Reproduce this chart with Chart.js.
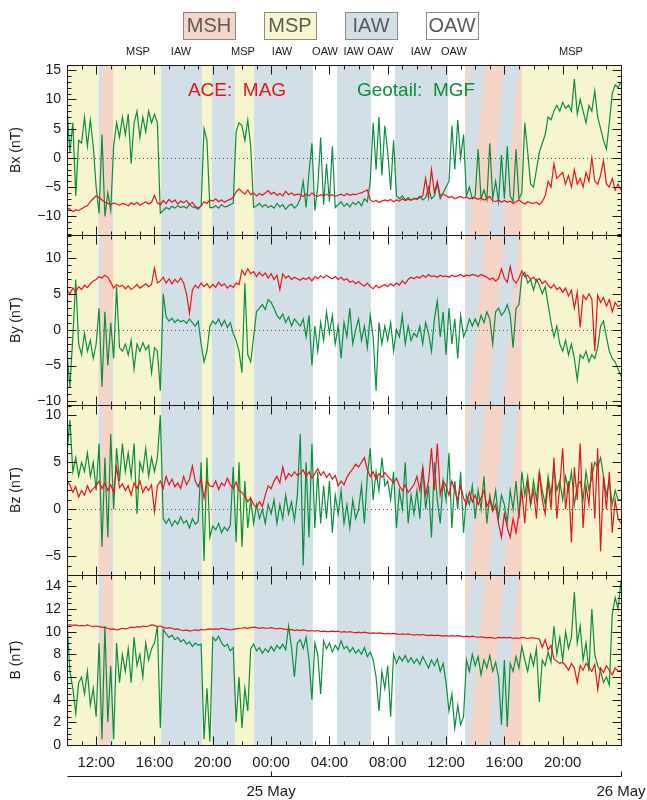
<!DOCTYPE html>
<html>
<head>
<meta charset="utf-8">
<script src="https://cdn.jsdelivr.net/npm/chart.js@4.4.1/dist/chart.umd.min.js"></script>
<style>
  html, body { margin: 0; padding: 0; background: #fff; }
  canvas { display: block; }
</style>
</head>
<body>
<canvas id="mag" width="647" height="800"></canvas>
<script>
// time axis: hours since 24 May 00:00, one sample every 0.2 h from 10:00
const startHour = 10;
const sampleStep = 0.2;

const xTickHours = [12, 16, 20, 24, 28, 32, 36, 40, 44];
const xTickLabels = ['12:00', '16:00', '20:00', '00:00', '04:00', '08:00', '12:00', '16:00', '20:00'];
const dateHours = [24, 48];
const dateLabels = ['25 May', '26 May'];

// Geotail MGF (green) and ACE MAG (red), nT
const gBx = [
  8.5, 1, 6, -6.5, 3, 2.5, 7, 2, 6.5, 2,
  -5, -9.5, 4, -10, -6, -9, 2, 6, 3.5, 7,
  4, 7.5, -1, 6, 8, 3.5, 7, 4.5, 8, 6,
  7.5, 6, -9.5, -9, -8.5, -8.8, -8.3, -8.6, -8.2, -8.5,
  -8.3, -8.6, -8, -8.4, -8.5, -8.8, -8.2, 5, 3, -8.5,
  -8.5, -8.2, -8.6, -8, -8.4, -8.3, -8, -7.8, 4.5, 6,
  5.5, 3, 6.5, 2, -8.5, -8.2, -7.8, -8.4, -8, -8.5,
  -8.2, -8.6, -7.8, -8.4, -8, -8.8, -8.2, -7.9, -8.6, -8.1,
  -7, -4, -8.5, -2.5, 2.5, -9, -5, 3.5, -8, -1,
  -7.5, 2, -8.5, -8, -7.5, -8.3, -7.8, -8.4, -7.6, -8,
  -7.5, -8.2, -7, -7.5, -4, 6, -2, 7, -3, 5.5,
  1, -5.5, 3, -6.5, -7, -6.5, -7.2, -6.8, -7.3, -6.9,
  -7, -6.6, -7.2, -6.8, -5, -7, -6.5, -4.5, -7, -6,
  -5, -4, 5.5, -2, 6.5, 0, 4, -6.5, -5, -7,
  -6.5, 1.5, -7, -5.5, -7.2, 2.5, -7, -4, -7.5, 0.5,
  -7, 2, -6.5, -7.5, 1.5, -7, -6, 6, 1, -4.5,
  -5, -2, 1, 2.5, 4, 7, 6.5, 8, 9, 8,
  9.5, 8.5, 9, 8, 13.5, 7.5, 10, 8, 6, 9,
  8, 11.5, 7, 5, 3, 1.5, 6, 11, 12.5, 12,
  13
];
const rBx = [
  -8.5, -8.8, -9.2, -8.9, -9, -8.7, -8.4, -8.2, -7.5, -7,
  -6.5, -6.8, -7.2, -7.6, -7.8, -8, -7.7, -7.9, -8.1, -7.8,
  -7.9, -8.2, -7.7, -8, -7.6, -8.1, -7.8, -7.5, -7.9, -7.6,
  -6.4, -7.7, -8, -7.3, -7.8, -7.1, -7.6, -7.2, -7.9, -7.4,
  -7.7, -7.3, -8, -7.6, -8.3, -8.6, -8.2, -7.5, -7.8, -7.2,
  -7.4, -7, -7.5, -7.2, -7.6, -7.3, -7.1, -6.8, -5.8, -5.3,
  -5.8, -6.2, -5.5, -6.3, -6, -6.5, -6.1, -6.4, -6, -5.6,
  -6.2, -5.9, -6.4, -6.1, -6.5, -5.7, -6.3, -6, -6.4, -6.2,
  -6.3, -6.6, -6.2, -6.5, -6, -6.4, -6.6, -6.3, -6.5, -6.2,
  -6.5, -6.3, -6.6, -6.4, -6.2, -6.5, -6.1, -6.4, -6.2, -6.3,
  -6.1, -6, -5.7, -5.5, -7.2, -7.5, -7.3, -7.6, -7.4, -7.2,
  -7.4, -7.1, -7.5, -7.2, -7.4, -7, -7.3, -7.1, -7.2, -7,
  -7.1, -6.8, -6.5, -3.5, -6.8, -2, -6, -4, -6.5, -6.2,
  -6.5, -6.8, -6.6, -7, -6.8, -6.6, -6.9, -6.7, -7, -6.8,
  -6.9, -7.1, -6.8, -7.2, -7, -6.6, -7.3, -7.5, -7.2, -7.6,
  -7.3, -7.6, -7.4, -7.8, -7.5, -7.2, -7.6, -7.9, -7.5, -7.7,
  -7.8, -7.6, -8, -7.5, -6.5, -4, -5, -1, -3.5, -3,
  -2.5, -4.5, -3, -5, -2, -4.5, -3.5, -5, -2.5, -4,
  0, -4, -4.5, -3, -0.5, -4.5, -5, -3.5, -5.5, -4.5,
  -5.5
];
const gBy = [
  -3, -8, -1, 7, -2, -3.5, -0.5, -3, -1.5, -4,
  -2, 3, -8, 2.5, -5, 1, -4, 6, -2.5, -3,
  -2, -3.5, -1.5, -5.5, -2, -3, -1.8, -2.8, -2.2, -6,
  -2.5, -3, -8.5, 5, 1.8, 1.2, 1.6, 1, 1.4, 1.1,
  1.3, 0.9, 1.5, 1, 0.5, 1.2, -2, -4.5, -3, 0.5,
  1.2, 0.8, 1.5, 0.5, 1.3, 0.3, 1, -0.5, -1.5, -3,
  -6, 6.5, -3.5, -4.5, -1, 2.5, 3, 3.5, 2.8, 4.2,
  3.8, 3, 2, 1.5, 2.2, 1, 1.8, 0.5, 1.5, 1,
  0.5, 1.5, -1, 2, -5, 0.5, -3, 1, -1.5, 2.5,
  -0.5, 2, -2, 0.5, -4, 1, -1, 3, -2, 0,
  1.5, -1.5, 0.5, -2.5, 2, -1, -8.5, 1, -2, 0.5,
  -1.5, 1, -3, 0, -1, 2, -2, 0.5, -1.5, -0.5,
  -1, 0.5, -2, 1, -0.5, -3, 1.5, 4, -1, 2.5,
  -3.5, 3, -2, 1.5, -4, 2, -1, 0, 1.5, 0.5,
  1.5, 0.5, 2, 1, 2.5, 1.5, -2, 2.5, 3, 2,
  2.5, 3.5, 2, -2.5, 3, 3.5, 7.5, 8, 6.5, 7,
  5.5, 7, 6.2, 5, 6, 3.5, 1, -1, 0.5, -2,
  -3, -1.5, -3.5, -2, -4, -7, -3.5, -4, -3, -4.5,
  -3.5, -4, -2.5, 0.5, 1.2, -1, -3, -4, -4.5, -5.5,
  -6.5
];
const rBy = [
  5.5, 5, 5.8, 5.3, 6, 5.6, 6.2, 5.9, 6.4, 6.8,
  7, 7.4, 7.2, 7.6, 7.3, 6.6, 5.8, 6.3, 6, 6.2,
  5.7, 6.1, 5.6, 5.9, 6.3, 5.8, 6.1, 6.4, 6, 6.3,
  8.6, 6.5, 6.8, 7.3, 6.5, 7.1, 6.4, 7, 6.6, 7.2,
  6.5, 5, 2.3, 5.5, 6.2, 5.8, 6.5, 6, 6.4, 5.8,
  6.3, 5.9, 6.6, 6.1, 6.4, 5.8, 6.2, 5.9, 6.5, 6.3,
  8.3, 7.6, 8.5, 7.8, 8.1, 7.4, 8, 7.5, 7.9, 7.2,
  7.8, 7, 7.6, 5.6, 7.8, 7.2, 7.5, 7, 7.3, 7.1,
  6.9, 7.2, 7, 7.3, 6.8, 7.4, 7.1, 7.5, 7.2, 7.6,
  7.3, 7.1, 7.4, 7, 7.3, 6.9, 7.1, 6.6, 6.8, 6.4,
  6.7, 6.3, 6.1, 6.5, 6, 5.7, 6.2, 5.8, 6.1, 6.3,
  6, 6.4, 6.1, 6.5, 6.2, 6.8, 6.4, 7, 7.3, 7.1,
  7.4, 7.2, 7.6, 7.3, 7.7, 7.4, 7.5, 7.3, 7.6, 7.4,
  7.5, 7.3, 7.6, 7.4, 7.5, 7.7, 7.4, 7.6, 7.5, 7.7,
  7.6, 7.4, 7.7, 7.5, 7.3, 7, 7.2, 6.8, 7.1, 8.5,
  7.2, 6.6, 8.8, 7, 6.5, 7.2, 8.2, 7.4, 7.6, 7,
  7.3, 6.8, 7.1, 6.4, 6.8, 6.2, 5.8, 6.3, 5.6, 5.9,
  5.2, 5.8, 4.7, 5.5, 3, 5.2, 0.3, 4.8, 4.2, 5,
  4.3, -3, 4.8, 3.8, 4.5, 3.3, 4.2, 2.5, 3.8, 3.2,
  3.5
];
const gBz = [
  6, 9.5, 4, 5.5, 3.5, 5, 4, 6, 3.5, 5,
  2, 7, -4, 5.5, -3, 8, 0, 6.5, 3, 7,
  4, 6, 3.5, 7, -0.5, 5, 4, 6.5, 3.5, 5.5,
  4, 5.5, 10, -1, -1.5, -1, -1.8, -1.2, -1.6, -0.8,
  -1.5, -1.2, -2, -1, -1.6, -1.3, 5, -5.5, 5.5, -3,
  -1.8, -2.2, -1.5, -2.5, -1.9, -2.3, -1.7, 4.5, -3.5, 5,
  -4, 3, -2, 1, -1.5, 0.5, -1, 0, -1.5, 0.5,
  -0.5, 1, -1.5, 0.5, -1, 1.5, -0.5, 0.8, -1.2, 1.5,
  8, -6, 5, -3, 7, -2, 4, -1.5, 2.5, -1,
  3, -2.5, 1.5, -0.5, 2, -1.5, 0.5, -2, 1, -1,
  0, 2.5, -1.5, 3.5, 6.5, 1, 4, 2, 5.5, 2.5,
  3, 1, 4, -2, 2, 0, 5, -1.5, 1.5, -0.5,
  2, -1, 4.5, 0, 2.5, -3, 5, 1, -1.5, 3,
  1, 6, -2, 3, 0, 4, -2.5, 1.5, 0.5, 2.5,
  -1, 2, 0, 3.5, -1.5, 1.5, 0, 2, -1, 1.5,
  0.5, -1.5, 2, 0, 3, -1, 4, 1.5, 3.5, 0.5,
  3, 1, 4, 2, 0.5, 3.5, 1.5, 4.5, 2, 3,
  1, 3.5, 2, 4, 0.5, 2.5, 3, 1, 4, 2,
  3.5, 5, 4.5, 5.5, 3.5, 1.5, 3, 0.5, 2, 1,
  1
];
const rBz = [
  3, 2.6, 1.8, 2.4, 1.3, 2, 1.5, 2.5, 1.8, 2.2,
  2.5, 3, 2.2, 2.8, 2, 2.6, 1.8, 4.5, 2.3, 2.7,
  2, 2.5, 1.5, 2.8, 2.2, 3, 1.8, 2.4, 2, 2.6,
  -0.3, 2.5, 3, 2.2, 3.5, 2.6, 3.2, 2.4, 2.8, 2.2,
  3.5, 2.6, 3.2, 4.6, 3, 2.4, 3.2, 1.2, 3, 2.5,
  2.4, 3, 2.1, 2.8, 2.5, 3.3, 2.6, 2.2, 2.9, 2,
  1.8, 1.4, 0.8, 1.2, 0.5, 0.2, 0.8, 0.3, 1.5, 2.5,
  2.2, 3, 3.5, 2.8, 4.5, 3.2, 3.8, 3.5, 4, 3.6,
  3.8, 4.2, 3.5, 4, 3.3, 3.8, 4.3, 3.6, 4, 3.4,
  3.8, 3.2, 3.6, 2.5, 3, 2.6, 3.4, 3.9, 4.3, 4.8,
  4.5, 5, 5.5, 4.2, 3.5, 4, 3.2, 3.8, 3.4, 3.9,
  3.5, 3.2, 2.8, 3.3, 2.5, 2, 2.6, 1.8, 2.2, 2.6,
  3.5, 2, 4.5, 1.5, 3, 6.5, 2, 7, 1.5, 3,
  2.5, 1.5, 3, 2, 1, 2.5, 1.2, 0.5, 1.8, 0.8,
  1.5, 0.5, 1.2, 2, 0.3, 1, -0.2, 0.5, -1.5, -3,
  -0.5, -2, -3, -1, -2.5, -0.5, 2, -1.5, 3, 0.5,
  2, -1, 4, 1, -0.5, 3, 0, 5.5, -1, 2.5,
  6.5, 0, 3, -3.5, 4.5, 1, 7, -2, 2.5, 0.5,
  5, -1, 6.5, -4.5, 3.5, 0, 4, -2.5, 1, -1,
  -1.5
];
const gB = [
  11, 6.5, 5, 2.8, 5.5, 6, 4.5, 6.5, 3.5, 5,
  2.5, 9, 0.5, 10.5, 2, 7, 0.5, 9, 5.5, 8,
  6.5, 8.5, 5.5, 9.5, 7, 8, 6, 9, 7.5, 8.5,
  9, 10.5, 1.5, 10.2, 9.8, 9.5, 9.7, 9.3, 9.5, 9.1,
  9.3, 8.9, 9.1, 8.7, 9, 8.8, 8.9, 0.5, 5, 0.3,
  9.5, 9.2, 9.6, 9, 8.7, 8.9, 8.3, 8.6, 2, 6,
  1.5, 5, 3, 8.5, 8.9, 8.3, 8.6, 8.1, 8.5, 8.2,
  8.7, 8.3, 8.8, 8.5, 8.9, 8.4, 10.5, 8.6, 6, 9,
  9.3, 8.5, 9.5, 7.5, 4, 9, 8, 4.5, 9.2, 8.5,
  9, 8.2, 8.8, 8.4, 9.2, 8.5, 8.7, 8.2, 8.6, 8.1,
  8.4, 8, 8.6, 7.8, 8.2, 7.5, 6, 3, 6.5, 5,
  7, 2.5, 8, 7.2, 7.8, 7.4, 7.9, 7.3, 7.7, 7.2,
  7.6, 7.1, 7.8, 7.3, 6.8, 7.5, 7, 7.6, 6.5, 7.2,
  5.5, 3, 4.5, 1.5, 3.5, 1.8, 2.5, 7.5, 6.5, 8,
  7, 7.8, 6.2, 7.5, 6.8, 7.9, 6.5, 7.3, 6, 1.8,
  7.5, 1.6, 7.2, 6.5, 7.8, 6.8, 8.7, 7.5, 6.5, 8,
  7, 8.5, 3.8, 7.5, 7, 8.2, 7.3, 10.5, 8, 9.5,
  7.5, 10, 8.5, 9.5, 13.5, 9, 10.5, 7.5, 9, 6.5,
  12, 8, 7, 6.5, 5.5, 6, 5.3, 11.5, 13, 12,
  14.5
];
const rB = [
  10.6, 10.6, 10.55, 10.6, 10.5, 10.55, 10.5, 10.6, 10.5, 10.45,
  10.5, 10.45, 10.4, 10.35, 10.3, 10.2, 10.25, 10.15, 10.2, 10.3,
  10.25, 10.3, 10.4, 10.35, 10.45, 10.4, 10.5, 10.45, 10.5, 10.6,
  10.55, 10.45, 10.5, 10.4, 10.3, 10.35, 10.3, 10.2, 10.25, 10.15,
  10.1, 10.15, 10.05, 10.1, 10.15, 10.1, 10.2, 10.15, 10.2, 10.25,
  10.2, 10.25, 10.2, 10.3, 10.25, 10.2, 10.15, 10.2, 10.25, 10.3,
  10.3, 10.35, 10.3, 10.35, 10.4, 10.35, 10.3, 10.35, 10.3, 10.3,
  10.35, 10.3, 10.25, 10.3, 10.25, 10.2, 10.15, 10.2, 10.1, 10.15,
  10.1, 10.15, 10.1, 10.05, 10.1, 10.05, 10.1, 10, 10.05, 10,
  10, 10.05, 10, 10.05, 9.95, 10, 9.95, 10, 9.95, 9.9,
  9.95, 9.9, 9.95, 9.9, 9.85, 9.9, 9.85, 9.9, 9.85, 9.8,
  9.85, 9.8, 9.85, 9.8, 9.75, 9.8, 9.75, 9.8, 9.75, 9.7,
  9.75, 9.7, 9.75, 9.7, 9.65, 9.7, 9.65, 9.7, 9.65, 9.6,
  9.65, 9.6, 9.65, 9.6, 9.65, 9.6, 9.55, 9.6, 9.55, 9.6,
  9.55, 9.5, 9.55, 9.5, 9.45, 9.5, 9.45, 9.4, 9.5, 9.45,
  9.5, 9.45, 9.5, 9.4, 9.45, 9.4, 9.5, 9.45, 9.4, 9.45,
  9.45, 9.4, 9.35, 8.6, 9.3, 8.4, 8.8, 7.6, 7.4, 7.2,
  7.3, 7, 6.6, 7.2, 6.8, 5.5, 7, 6.6, 7.2, 6.9,
  6.5, 7.1, 4.9, 6.8, 6.4, 7, 6.6, 6.2, 6.8, 6.5,
  6.6
];

// region intervals (hours) and their kind
const regionStart = [10, 13.18, 16.45, 19.26, 19.95, 21.52, 22.83, 26.87, 28.52, 30.85, 32.5, 36.13, 41.2];
const regionEnd   = [12.15, 16.45, 19.26, 19.95, 21.52, 22.83, 26.87, 28.52, 30.85, 32.5, 36.13, 37.3, 48];
const regionKind  = ['MSP', 'MSP', 'IAW', 'MSP', 'IAW', 'MSP', 'IAW', 'OAW', 'IAW', 'OAW', 'IAW', 'OAW', 'MSP'];
// striped MSH / IAW transitions
const transStart = [12.15, 37.3];
const transEnd = [13.18, 41.2];
const bandStart = [[12.1], [35.3, 37.6, 39.9]];
const bandEnd = [[12.95], [36.6, 38.9, 41.2]];
const bandSlant = [0.35, 1.1];

const topLabelHours = [14.87, 17.82, 22.07, 24.75, 27.7, 29.66, 31.48, 34.28, 36.54, 44.57];
const topLabelText = ['MSP', 'IAW', 'MSP', 'IAW', 'OAW', 'IAW', 'OAW', 'IAW', 'OAW', 'MSP'];
const legendNames = ['MSH', 'MSP', 'IAW', 'OAW'];

const fills = { MSH: '#f5d5c8', MSP: '#f7f5cd', IAW: '#d3dfe6', OAW: '#ffffff' };
const RED = '#e8141c';
const GREEN = '#0a8f3e';
const INK = '#1a1a1a';
const FONT = "'Liberation Sans', Arial, sans-serif";

const panelIds = ['yBx', 'yBy', 'yBz', 'yB'];
const panelMinor = { yBx: 1, yBy: 1, yBz: 1, yB: 0.5 };
const panelTicks = {
  yBx: [-10, -5, 0, 5, 10, 15],
  yBy: [-10, -5, 0, 5, 10],
  yBz: [-5, 0, 5, 10],
  yB: [0, 2, 4, 6, 8, 10, 12, 14]
};

const pts = arr => arr.map((v, i) => ({ x: startHour + i * sampleStep, y: v }));

const panelPlugin = {
  id: 'panels',
  beforeDatasetsDraw(chart) {
    const { ctx, chartArea: ca, scales } = chart;
    const x = scales.x;
    panelIds.forEach(id => {
      const s = scales[id];
      const top = s.top, bottom = s.bottom;
      ctx.save();
      ctx.beginPath();
      ctx.rect(ca.left, top, ca.width, bottom - top);
      ctx.clip();
      regionStart.forEach((a, i) => {
        const x0 = x.getPixelForValue(a), x1 = x.getPixelForValue(regionEnd[i]);
        ctx.fillStyle = fills[regionKind[i]];
        ctx.fillRect(x0, top, x1 - x0, bottom - top);
      });
      transStart.forEach((a, i) => {
        const x0 = x.getPixelForValue(a), x1 = x.getPixelForValue(transEnd[i]);
        ctx.save();
        ctx.beginPath();
        ctx.rect(x0, top, x1 - x0, bottom - top);
        ctx.clip();
        ctx.fillStyle = fills.IAW;
        ctx.fillRect(x0, top, x1 - x0, bottom - top);
        ctx.fillStyle = fills.MSH;
        bandStart[i].forEach((b, k) => {
          const e = bandEnd[i][k], sl = bandSlant[i];
          ctx.beginPath();
          ctx.moveTo(x.getPixelForValue(b), bottom);
          ctx.lineTo(x.getPixelForValue(e), bottom);
          ctx.lineTo(x.getPixelForValue(e + sl), top);
          ctx.lineTo(x.getPixelForValue(b + sl), top);
          ctx.closePath();
          ctx.fill();
        });
        ctx.restore();
      });
      if (s.min < 0) {
        const y0 = Math.round(s.getPixelForValue(0)) + 0.5;
        ctx.strokeStyle = '#555';
        ctx.lineWidth = 1;
        ctx.setLineDash([1, 3]);
        ctx.beginPath();
        ctx.moveTo(ca.left, y0);
        ctx.lineTo(ca.right, y0);
        ctx.stroke();
        ctx.setLineDash([]);
      }
      ctx.restore();
    });
  },
  beforeDatasetDraw(chart, args) {
    const { ctx, chartArea: ca } = chart;
    const s = args.meta.yScale;
    ctx.save();
    ctx.beginPath();
    ctx.rect(ca.left, s.top, ca.width, s.bottom - s.top);
    ctx.clip();
  },
  afterDatasetDraw(chart) {
    chart.ctx.restore();
  },
  afterDatasetsDraw(chart) {
    const { ctx, chartArea: ca, scales } = chart;
    const x = scales.x;
    const L = Math.round(ca.left) + 0.5, R = Math.round(ca.right) + 0.5;
    ctx.save();
    ctx.strokeStyle = INK;
    ctx.lineWidth = 1;
    panelIds.forEach(id => {
      const s = scales[id];
      const top = Math.round(s.top) + 0.5, bot = Math.round(s.bottom) + 0.5;
      ctx.strokeRect(L, top, R - L, bot - top);
      ctx.beginPath();
      // y ticks, inward on both sides
      const step = panelMinor[id];
      for (let k = Math.ceil(s.min / step); k * step <= s.max; k++) {
        const v = k * step;
        const yy = Math.round(s.getPixelForValue(v)) + 0.5;
        const len = panelTicks[id].includes(v) ? 9 : 4;
        ctx.moveTo(L, yy); ctx.lineTo(L + len, yy);
        ctx.moveTo(R, yy); ctx.lineTo(R - len, yy);
      }
      // x ticks, inward top and bottom
      for (let h = Math.ceil(x.min) + 1; h < x.max; h++) {
        const xx = Math.round(x.getPixelForValue(h)) + 0.5;
        const len = xTickHours.includes(h) ? 9 : 4;
        ctx.moveTo(xx, top); ctx.lineTo(xx, top + len);
        ctx.moveTo(xx, bot); ctx.lineTo(xx, bot - len);
      }
      ctx.stroke();
    });

    // date axis below the time labels
    const yd = 776.5;
    ctx.beginPath();
    ctx.moveTo(L, yd); ctx.lineTo(R, yd);
    dateHours.forEach(h => {
      const xx = Math.round(x.getPixelForValue(h)) + 0.5;
      ctx.moveTo(xx, yd); ctx.lineTo(xx, yd - 5);
    });
    ctx.stroke();
    ctx.fillStyle = INK;
    ctx.font = '15px ' + FONT;
    ctx.textAlign = 'center';
    ctx.textBaseline = 'middle';
    dateHours.forEach((h, i) => ctx.fillText(dateLabels[i], x.getPixelForValue(h), 792));

    // region names above the top panel
    ctx.font = '11px ' + FONT;
    topLabelHours.forEach((h, i) => ctx.fillText(topLabelText[i], x.getPixelForValue(h), 52));

    // colour key boxes
    ctx.font = '300 20px ' + FONT;
    legendNames.forEach((n, i) => {
      const bx = 183 + i * 81;
      ctx.fillStyle = fills[n];
      ctx.fillRect(bx, 12, 52, 27);
      ctx.strokeStyle = '#8a8a8a';
      ctx.strokeRect(bx + 0.5, 12.5, 52, 27);
      ctx.fillStyle = '#5a5a5a';
      ctx.fillText(n, bx + 26, 26.5);
    });

    // instrument annotations
    ctx.font = '19px ' + FONT;
    ctx.fillStyle = RED;
    ctx.fillText('ACE:  MAG', 237, 91);
    ctx.fillStyle = GREEN;
    ctx.fillText('Geotail:  MGF', 416, 91);
    ctx.restore();
  }
};

const minus = v => String(v).replace('-', '\u2212');

function panelAxis(id, title, min, max) {
  return {
    type: 'linear',
    position: 'left',
    stack: 'field',
    stackWeight: 1,
    min: min,
    max: max,
    afterFit: s => { s.width = 67; },
    afterBuildTicks: s => { s.ticks = panelTicks[id].map(v => ({ value: v })); },
    grid: { display: false, drawTicks: false },
    border: { display: false },
    ticks: {
      autoSkip: false, padding: 6, color: INK,
      font: { family: FONT, size: 14 }, callback: v => minus(v)
    },
    title: { display: true, text: title, color: INK, font: { family: FONT, size: 14 }, padding: { top: 8, bottom: 0 } }
  };
}

const ctxMag = document.getElementById('mag').getContext('2d');
new Chart(ctxMag, {
  type: 'line',
  data: {
    datasets: [
      { label: 'ACE Bx', data: pts(rBx), yAxisID: 'yBx', borderColor: RED },
      { label: 'ACE By', data: pts(rBy), yAxisID: 'yBy', borderColor: RED },
      { label: 'ACE Bz', data: pts(rBz), yAxisID: 'yBz', borderColor: RED },
      { label: 'ACE B', data: pts(rB), yAxisID: 'yB', borderColor: RED },
      { label: 'Geotail Bx', data: pts(gBx), yAxisID: 'yBx', borderColor: GREEN },
      { label: 'Geotail By', data: pts(gBy), yAxisID: 'yBy', borderColor: GREEN },
      { label: 'Geotail Bz', data: pts(gBz), yAxisID: 'yBz', borderColor: GREEN },
      { label: 'Geotail B', data: pts(gB), yAxisID: 'yB', borderColor: GREEN }
    ]
  },
  options: {
    responsive: false,
    animation: false,
    layout: { padding: { top: 65, right: 26, left: 0, bottom: 0 } },
    elements: {
      point: { radius: 0 },
      line: { borderWidth: 1.2, tension: 0, fill: false }
    },
    plugins: { legend: { display: false }, tooltip: { enabled: false } },
    scales: {
      x: {
        type: 'linear',
        min: 10,
        max: 48,
        afterFit: s => { s.height = 55; },
        afterBuildTicks: s => { s.ticks = xTickHours.map(v => ({ value: v })); },
        grid: { display: false, drawTicks: false },
        border: { display: false },
        ticks: {
          autoSkip: false, maxRotation: 0, padding: 9, color: INK,
          font: { family: FONT, size: 15 },
          callback: v => xTickLabels[xTickHours.indexOf(v)]
        }
      },
      yB: panelAxis('yB', 'B (nT)', 0, 15),
      yBz: panelAxis('yBz', 'Bz (nT)', -7, 11.1),
      yBy: panelAxis('yBy', 'By (nT)', -10.5, 13.2),
      yBx: panelAxis('yBx', 'Bx (nT)', -13.2, 15.9)
    }
  },
  plugins: [panelPlugin]
});
</script>
</body>
</html>
